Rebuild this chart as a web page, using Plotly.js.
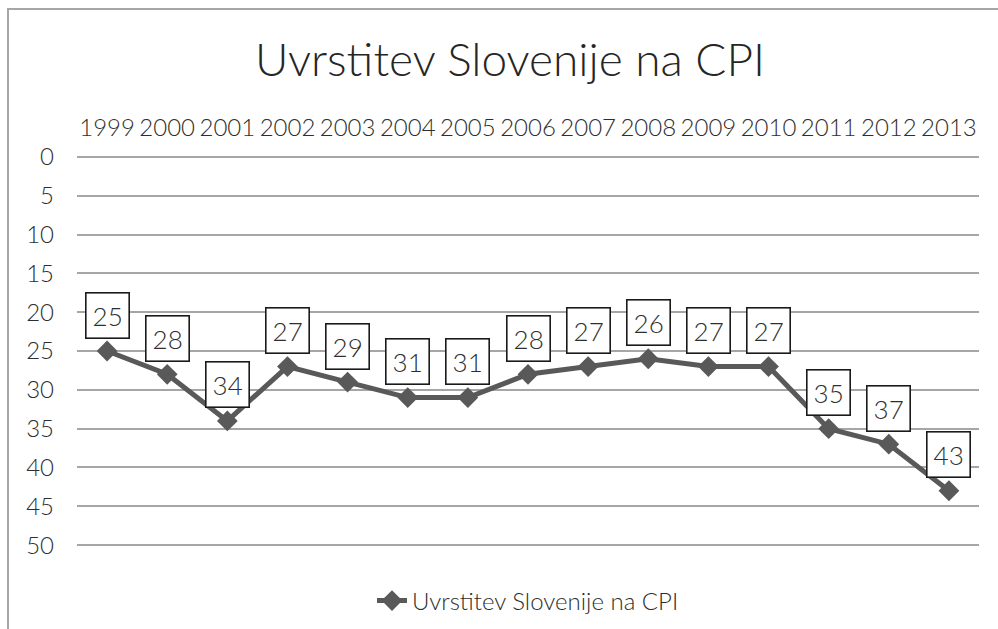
<!DOCTYPE html>
<html>
<head>
<meta charset="utf-8">
<script src="https://cdn.plot.ly/plotly-3.0.1.min.js"></script>
<style>
html,body{margin:0;padding:0;background:#fff;}
#chart{width:998px;height:629px;}
</style>
</head>
<body>
<div id="chart"></div>
<script>
// ---- data ----
const years = ["1999","2000","2001","2002","2003","2004","2005","2006","2007","2008","2009","2010","2011","2012","2013"];
const ranks = [25, 28, 34, 27, 29, 31, 31, 28, 27, 26, 27, 27, 35, 37, 43];
const yTicks = [0, 5, 10, 15, 20, 25, 30, 35, 40, 45, 50];
const seriesName = "Uvrstitev Slovenije na CPI";
const chartTitle = "Uvrstitev Slovenije na CPI";

const FONT = "Lato, 'Open Sans', 'Liberation Sans', sans-serif";
const TXT = "#2e2e2e";
const LINE = "#595959";
const GRID = "#a6a6a6";

const trace = {
  type: "scatter",
  mode: "lines+markers",
  x: years,
  y: ranks,
  name: seriesName,
  line: {color: LINE, width: 5},
  marker: {symbol: "diamond", size: 16, color: LINE},
  hoverinfo: "x+y"
};

// category axis: annotation x given as category index
const annotations = years.map((yr, i) => ({
  x: i, y: ranks[i], xref: "x", yref: "y",
  text: String(ranks[i]),
  showarrow: false,
  yshift: 36,
  bgcolor: "#ffffff",
  bordercolor: "#1a1a1a",
  borderwidth: 1.6,
  borderpad: 6,
  font: {family: FONT, size: 26, color: TXT, weight: 300}
}));

const PAD = 0.5;
const MT = 153, MB = 80;
const PH = 629 - MT - MB;
const layout = {
  width: 998, height: 629,
  paper_bgcolor: "#ffffff", plot_bgcolor: "#ffffff",
  margin: {l: 77, r: 19, t: MT, b: MB, autoexpand: false},
  font: {family: FONT, color: TXT},
  title: {
    text: chartTitle,
    font: {family: FONT, size: 46, color: "#262626", weight: 300},
    x: 0.511, xanchor: "center",
    yref: "container", y: 1 - 60/629, yanchor: "middle"
  },
  xaxis: {
    type: "category",
    side: "top",
    range: [-0.5, 14.5],
    showgrid: false, zeroline: false, showline: false,
    ticks: "",
    ticklabelstandoff: 11,
    tickfont: {family: FONT, size: 24, color: TXT, weight: 300},
    fixedrange: true,
    automargin: false
  },
  yaxis: {
    range: [50 + PAD, -PAD],
    tickvals: yTicks,
    ticktext: yTicks.map(String),
    showgrid: true, gridcolor: GRID, gridwidth: 2,
    zeroline: true, zerolinecolor: GRID, zerolinewidth: 2,
    showline: false,
    ticks: "",
    ticklabelstandoff: 22,
    tickfont: {family: FONT, size: 24, color: TXT, weight: 300},
    fixedrange: true,
    automargin: false
  },
  showlegend: true,
  legend: {
    orientation: "h",
    x: 0.5, xanchor: "center",
    y: -(601 - (629 - MB)) / PH, yanchor: "middle",
    font: {family: FONT, size: 24, color: TXT, weight: 300},
    bgcolor: "rgba(0,0,0,0)"
  },
  annotations: annotations,
  shapes: [{
    type: "path", xref: "paper", yref: "paper",
    path: "M " + (-69/902) + " " + (-0.3) + " L " + (-69/902) + " " + (1 + (MT - 9)/PH) + " L 1.1 " + (1 + (MT - 9)/PH),
    line: {color: GRID, width: 2},
    layer: "below"
  }]
};

Plotly.newPlot("chart", [trace], layout, {displayModeBar: false, staticPlot: true});
</script>
</body>
</html>
